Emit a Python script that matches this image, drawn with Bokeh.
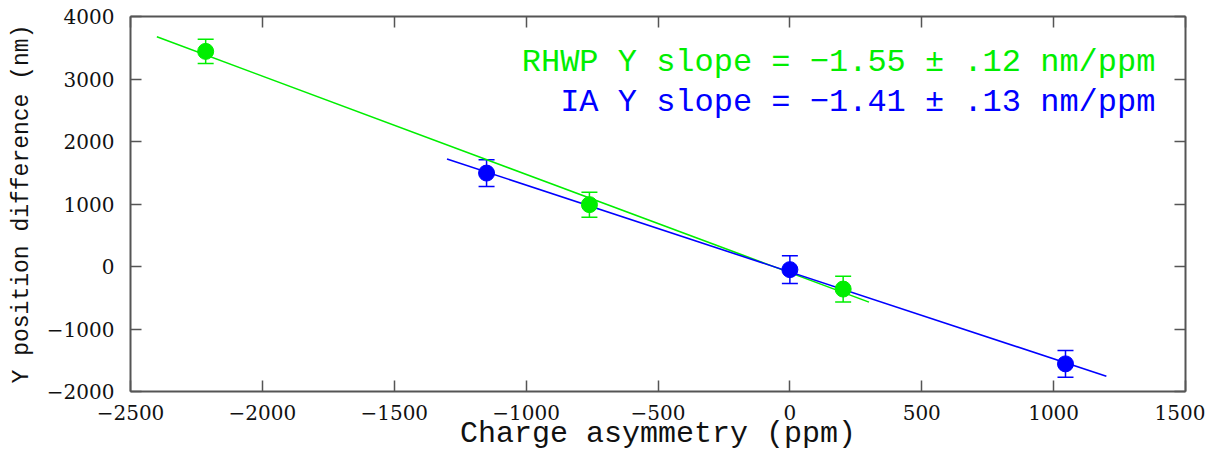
from bokeh.plotting import figure
from bokeh.models import ColumnDataSource, Whisker, TeeHead, LinearAxis, Label, FixedTicker, Range1d
from bokeh.embed import file_html
from bokeh.resources import INLINE

# data
rhwp_x = [-2215, -760, 202]
rhwp_y = [3442, 990, -361]
rhwp_err = [195, 200, 205]
ia_x = [-1150, 0, 1045]
ia_y = [1495, -50, -1558]
ia_err = [215, 223, 215]
rhwp_fit_x = [-2400, 300]
rhwp_fit_y = [3675, -570]
ia_fit_x = [-1300, 1200]
ia_fit_y = [1720, -1755]
x_ticks = [-2500, -2000, -1500, -1000, -500, 0, 500, 1000, 1500]
y_ticks = [-2000, -1000, 0, 1000, 2000, 3000, 4000]
rhwp_label = "RHWP Y slope = \u22121.55 \u00b1 .12 nm/ppm"
ia_label = "IA Y slope = \u22121.41 \u00b1 .13 nm/ppm"

GREEN = "#00ee00"
BLUE = "#0000ff"
AX = "#555555"
TICKFONT = "DejaVu Serif"
LABFONT = "Liberation Mono"

p = figure(frame_width=1055, frame_height=375, output_backend="svg", toolbar_location=None,
           x_range=Range1d(-2500, 1500), y_range=Range1d(-2000, 4000),
           min_border_left=130, min_border_right=20, min_border_top=16, min_border_bottom=10)
p.grid.visible = False
p.outline_line_color = None
p.background_fill_color = "white"

def style_axis(ax, ticks, labels=True):
    ax.ticker = FixedTicker(ticks=ticks)
    ax.axis_line_color = AX
    ax.axis_line_width = 2
    ax.major_tick_line_color = AX
    ax.major_tick_line_width = 1.5
    ax.major_tick_in = 11
    ax.major_tick_out = 0
    ax.minor_tick_line_color = None
    ax.major_label_text_font = TICKFONT
    ax.major_label_text_font_size = "20px"
    ax.major_label_text_color = "#111111"
    ax.axis_label_text_font = LABFONT
    ax.axis_label_text_font_style = "normal"
    ax.axis_label_text_color = "#111111"
    if not labels:
        ax.major_label_overrides = {t: "" for t in ticks}
        ax.major_label_text_color = None
        ax.major_label_standoff = 0

style_axis(p.xaxis[0], x_ticks)
style_axis(p.yaxis[0], y_ticks)
p.xaxis[0].major_label_standoff = 13
p.yaxis[0].major_label_standoff = 16
p.xaxis[0].axis_label = "Charge asymmetry (ppm)"
p.xaxis[0].axis_label_text_font_size = "30px"
p.xaxis[0].axis_label_standoff = -6
p.yaxis[0].axis_label = "Y position difference (nm)"
p.yaxis[0].axis_label_text_font_size = "23px"
p.yaxis[0].axis_label_standoff = 9
p.xaxis[0].major_label_overrides = {t: str(t).replace("-", "\u2212") for t in x_ticks}
p.yaxis[0].major_label_overrides = {t: str(t).replace("-", "\u2212") for t in y_ticks}

top = LinearAxis()
style_axis(top, x_ticks, labels=False)
right = LinearAxis()
style_axis(right, y_ticks, labels=False)
p.add_layout(top, "above")
p.add_layout(right, "right")

# fit lines
p.line(rhwp_fit_x, rhwp_fit_y, line_color=GREEN, line_width=1.6)
p.line(ia_fit_x, ia_fit_y, line_color=BLUE, line_width=1.6)

for xs, ys, es, col in [(rhwp_x, rhwp_y, rhwp_err, GREEN), (ia_x, ia_y, ia_err, BLUE)]:
    src = ColumnDataSource(dict(x=xs, y=ys,
                                lo=[y - e for y, e in zip(ys, es)],
                                hi=[y + e for y, e in zip(ys, es)]))
    w = Whisker(base="x", lower="lo", upper="hi", source=src,
                line_color=col, line_width=1.5,
                upper_head=TeeHead(size=16, line_color=col, line_width=1.5),
                lower_head=TeeHead(size=16, line_color=col, line_width=1.5))
    p.add_layout(w)
    p.scatter("x", "y", source=src, size=16, fill_color=col, line_color=col)

p.add_layout(Label(x=1386, y=3266, text=rhwp_label, text_align="right", text_baseline="alphabetic",
                   text_font=LABFONT, text_font_size="32px", text_color=GREEN))
p.add_layout(Label(x=1386, y=2628, text=ia_label, text_align="right", text_baseline="alphabetic",
                   text_font=LABFONT, text_font_size="32px", text_color=BLUE))

open("out.html", "w").write(file_html(p, INLINE))
